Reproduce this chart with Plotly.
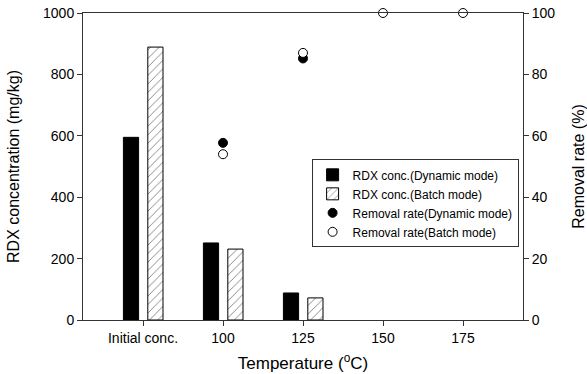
import plotly.graph_objects as go

categories = ["Initial conc.", "100", "125", "150", "175"]
rdx_dynamic = [595, 251, 88]
rdx_batch = [889, 231, 72]
removal_dynamic = [57.7, 85.2]
removal_dynamic_cats = ["100", "125"]
removal_batch = [54.0, 87.0, 100.0, 100.0]
removal_batch_cats = ["100", "125", "150", "175"]

idx = {c: i for i, c in enumerate(categories)}
FONT = "Liberation Sans, Arial, sans-serif"

fig = go.Figure()
fig.add_trace(go.Bar(
    x=[idx[c] for c in categories[:len(rdx_dynamic)]], y=rdx_dynamic,
    name="RDX conc.(Dynamic mode)", offset=-0.245, width=0.19,
    marker=dict(color="black", line=dict(color="black", width=1)),
))
fig.add_trace(go.Bar(
    x=[idx[c] for c in categories[:len(rdx_batch)]], y=rdx_batch,
    name="RDX conc.(Batch mode)", offset=0.06, width=0.19,
    marker=dict(color="white", line=dict(color="black", width=1),
                pattern=dict(shape="/", fgcolor="black", bgcolor="white",
                             size=6, solidity=0.15)),
))
fig.add_trace(go.Scatter(
    x=[idx[c] for c in removal_dynamic_cats], y=removal_dynamic, yaxis="y2",
    mode="markers", name="Removal rate(Dynamic mode)", cliponaxis=False,
    marker=dict(symbol="circle", size=9, color="black", line=dict(color="black", width=1)),
))
fig.add_trace(go.Scatter(
    x=[idx[c] for c in removal_batch_cats], y=removal_batch, yaxis="y2",
    mode="markers", name="Removal rate(Batch mode)", cliponaxis=False,
    marker=dict(symbol="circle", size=9, color="white", line=dict(color="black", width=1)),
))

fig.update_layout(
    width=587, height=374,
    margin=dict(l=83, r=64, t=13, b=54),
    paper_bgcolor="white", plot_bgcolor="white",
    barmode="overlay",
    font=dict(family=FONT, size=14, color="black"),
    xaxis=dict(
        range=[-0.75, 4.75], tickmode="array", automargin=False,
        tickvals=list(range(len(categories))), ticktext=categories,
        showline=True, linecolor="#333", linewidth=1, mirror=True,
        ticks="outside", ticklen=5, tickcolor="#333", showgrid=False, zeroline=False,
        tickfont=dict(size=14),
        title=dict(text="Temperature (<sup>o</sup>C)", font=dict(size=17), standoff=12),
    ),
    yaxis=dict(
        range=[0, 1000], tickvals=[0, 200, 400, 600, 800, 1000], automargin=False,
        showline=True, linecolor="#333", linewidth=1,
        ticks="outside", ticklen=5, tickcolor="#333", showgrid=False, zeroline=False,
        tickfont=dict(size=14),
        title=dict(text="RDX concentration (mg/kg)", font=dict(size=16), standoff=19),
    ),
    yaxis2=dict(
        range=[0, 100], tickvals=[0, 20, 40, 60, 80, 100], overlaying="y", side="right",
        automargin=False,
        showline=True, linecolor="#333", linewidth=1,
        ticks="outside", ticklen=5, tickcolor="#333", showgrid=False, zeroline=False,
        tickfont=dict(size=14),
        title=dict(text="Removal rate (%)", font=dict(size=16), standoff=26),
    ),
    showlegend=True,
    legend=dict(
        x=0.99, y=0.38, xanchor="right", yanchor="middle",
        bordercolor="#333", borderwidth=1, bgcolor="white",
        font=dict(size=12), tracegroupgap=0, itemwidth=30,
    ),
)

fig.write_html("out.html")
